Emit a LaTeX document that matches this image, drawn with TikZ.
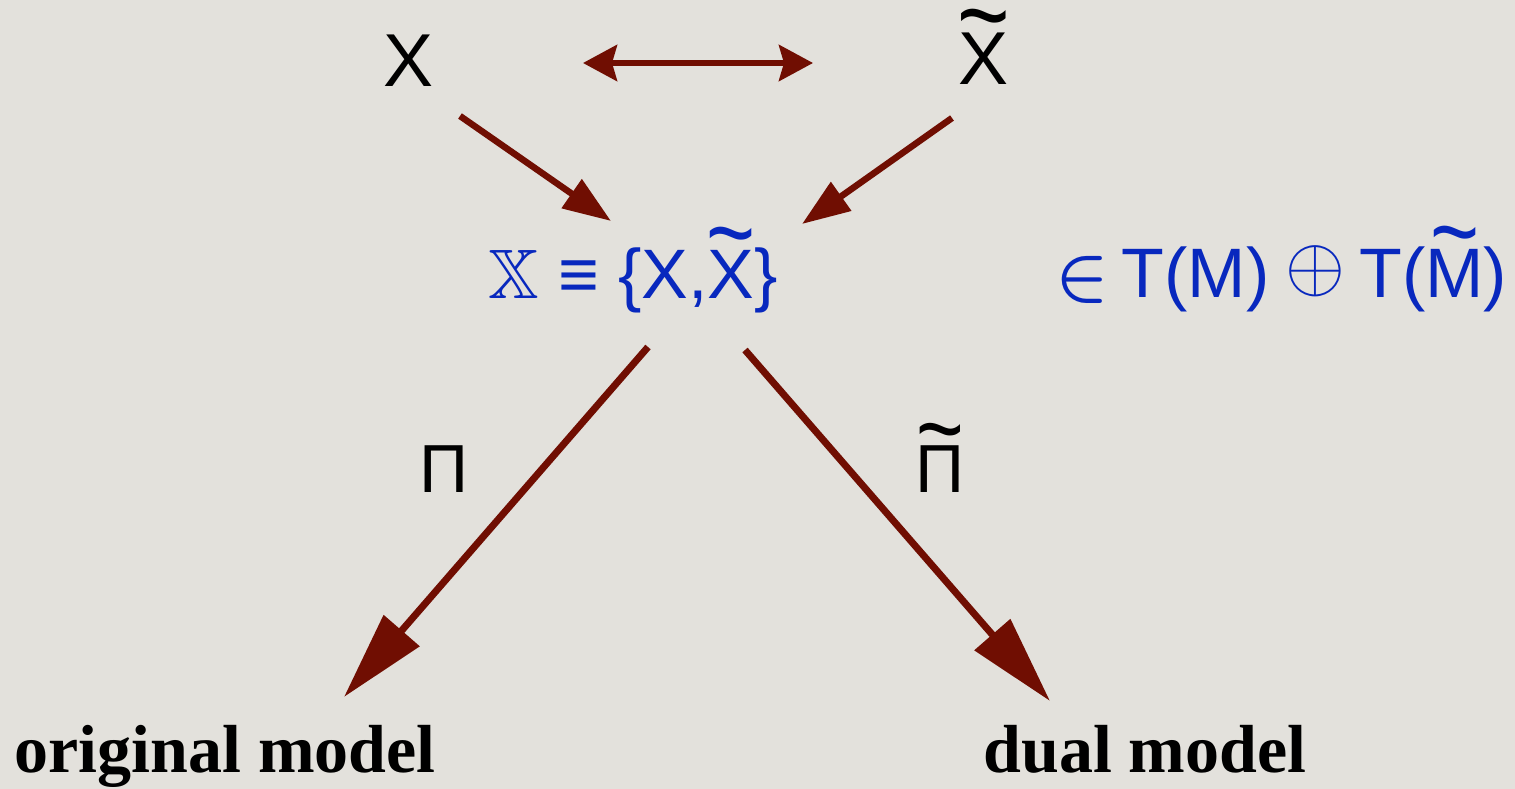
\documentclass[tikz,border=0pt]{standalone}
\usepackage{fix-cm}
\usepackage{amssymb}
\usepackage{fontspec}
\setmainfont{Liberation Sans}
\newfontfamily\oldserif{Liberation Serif}
\usetikzlibrary{arrows.meta}
\definecolor{bgcol}{RGB}{227,225,220}
\definecolor{arrcol}{RGB}{112,14,2}
\definecolor{bluecol}{RGB}{8,40,190}
\newcommand{\tld}[1]{\ooalign{#1\cr\hidewidth\raisebox{0.42em}{\scalebox{1.2}[1.5]{\char"7E}}\hidewidth\cr}}
\begin{document}
\begin{tikzpicture}[x=1pt,y=-1pt,
  biglab/.style={inner sep=0pt, anchor=base, text=black, font=\fontsize{75}{80}\selectfont},
  pilab/.style={inner sep=0pt, anchor=base, text=black, font=\fontsize{68}{72}\selectfont},
  bluetext/.style={inner sep=0pt, anchor=base, text=bluecol, font=\fontsize{70}{80}\selectfont},
  modellab/.style={inner sep=0pt, anchor=base, text=black, font=\oldserif\bfseries\fontsize{68}{76}\selectfont},
  dualarrow/.style={draw=arrcol, line width=6pt, {Stealth[length=34pt,width=36pt,inset=5pt]}-{Stealth[length=34pt,width=36pt,inset=5pt]}},
  smallarrow/.style={draw=arrcol, line width=6.5pt, -{Triangle[length=48pt,width=34pt]}},
  bigarrow/.style={draw=arrcol, line width=7pt, -{Triangle[length=88pt,width=46pt]}}
]
\fill[bgcol] (0,0) rectangle (1515,789);
\useasboundingbox (0,0) rectangle (1515,789);

% labels
\node[biglab] (nX) at (408.5,87) {X};
\node[biglab] (nXt) at (983.5,85) {\tld{X}};
\node[bluetext] (nPair) at (633,298) {$\mathbb{X}$ ≡ \{X,\tld{X}\}};
\node[bluetext, anchor=base west] (nSpace) at (1055,297) {{\boldmath$\in$}\hspace{13pt}T(M)\hspace{16pt}\raisebox{7pt}{\scalebox{1.1}{$\oplus$}}\hspace{14pt}T(\tld{M})};
\node[pilab] (nPi) at (444,492) {Π};
\node[pilab] (nPit) at (940,492) {\tld{Π}};
\node[modellab] (nOrig) at (225,772) {original model};
\node[modellab] (nDual) at (1145,772) {dual model};

% arrow end points
\coordinate (dL) at (583,63);
\coordinate (dR) at (813,63);
\coordinate (s1a) at (460,116);
\coordinate (s1b) at (611,221);
\coordinate (s2a) at (952,118);
\coordinate (s2b) at (802,224);
\coordinate (b1a) at (648,347);
\coordinate (b1b) at (344,697);
\coordinate (b2a) at (745,350);
\coordinate (b2b) at (1050,701);

\draw[dualarrow] (dL) -- (dR);
\draw[smallarrow] (s1a) -- (s1b);
\draw[smallarrow] (s2a) -- (s2b);
\draw[bigarrow] (b1a) -- (b1b);
\draw[bigarrow] (b2a) -- (b2b);
\end{tikzpicture}
\end{document}
